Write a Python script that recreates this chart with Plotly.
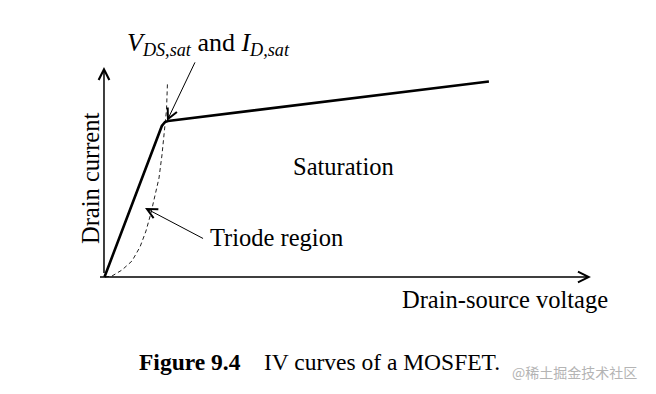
import plotly.graph_objects as go

# Schematic IV curve data (arbitrary units)
solid_v = [0.01, 1.13, 1.19, 1.255, 1.317, 7.92]
solid_i = [0.0, 6.86, 7.19, 7.38, 7.43, 9.31]

sat_v = [0.021, 0.165, 0.370, 0.576, 0.741, 0.864, 0.967, 1.049, 1.132, 1.193, 1.245, 1.286, 1.307]
sat_i = [0.0, 0.048, 0.333, 0.762, 1.429, 2.19, 3.05, 3.857, 4.714, 5.81, 7.0, 7.95, 9.29]

SERIF = "Liberation Serif, Times New Roman, serif"

fig = go.Figure()
fig.add_trace(go.Scatter(x=sat_v, y=sat_i, mode="lines",
                         line=dict(color="#222222", width=1, dash="4px,3px"),
                         hoverinfo="skip", showlegend=False))
fig.add_trace(go.Scatter(x=solid_v, y=solid_i, mode="lines",
                         line=dict(color="black", width=2.6),
                         hoverinfo="skip", showlegend=False))

def arrow(x0, y0, x1, y1, w, size):
    fig.add_annotation(x=x1, y=y1, ax=x0, ay=y0, xref="x", yref="y",
                       axref="x", ayref="y", text=" ", showarrow=True,
                       arrowhead=5, arrowwidth=w, arrowsize=size,
                       arrowcolor="black", standoff=0, startstandoff=0)

# axes
arrow(0, -0.29, 0, 10.0, 1.5, 1.4)
arrow(-0.144, 0, 10.02, 0, 1.5, 1.4)
# pointers
arrow(1.934, 10.52, 1.296, 7.43, 1, 2.0)
arrow(2.1, 1.76, 0.844, 3.29, 1, 2.0)

def text(x, y, s, size=24.5, xanchor="center", angle=0, color="black", family=SERIF):
    fig.add_annotation(x=x, y=y, xref="x", yref="y", text=s, showarrow=False,
                       xanchor=xanchor, yanchor="middle", textangle=angle,
                       font=dict(family=family, size=size, color=color))

text(2.16, 11.1, "<i>V</i><sub><i>DS,sat</i></sub> and <i>I</i><sub><i>D,sat</i></sub>", size=26)
text(4.92, 5.24, "Saturation")
text(2.14, 1.86, "Triode region", xanchor="left")
text(-0.29, 4.71, "Drain current", angle=-90)
text(8.25, -1.05, "Drain-source voltage")
text(0.68, -4.05, "<b>Figure 9.4</b>", size=23.5, xanchor="left")
text(3.25, -4.05, "IV curves of a MOSFET.", size=23.5, xanchor="left")
text(8.35, -4.52, "@稀土掘金技术社区", size=14, xanchor="left", color="#b4b4b4",
     family="Noto Sans CJK SC")

fig.update_layout(
    width=648, height=386,
    margin=dict(l=0, r=0, t=0, b=0),
    paper_bgcolor="white", plot_bgcolor="white",
    xaxis=dict(range=[-1.975, 11.358], visible=False, fixedrange=True),
    yaxis=dict(range=[-5.571, 12.81], visible=False, fixedrange=True),
    showlegend=False,
)

fig.write_html("out.html")
